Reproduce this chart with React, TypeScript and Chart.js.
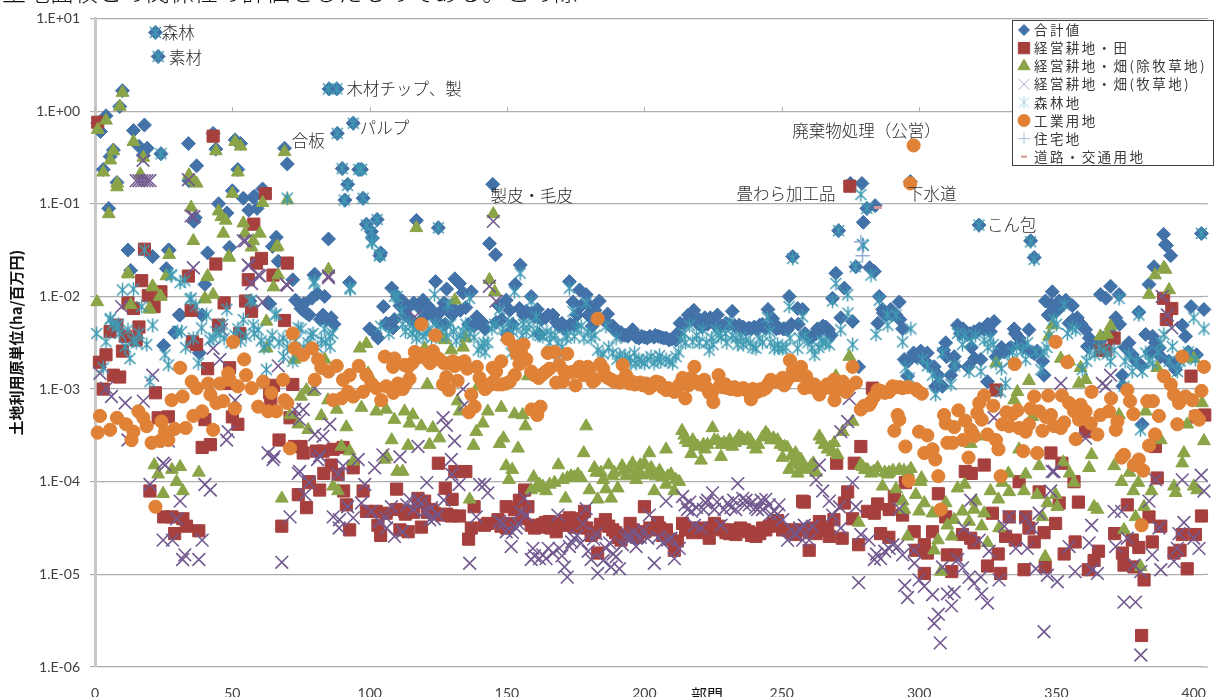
import React, { useEffect, useRef } from "react";
import { Chart, registerables } from "chart.js";
import { drawPoint } from "chart.js/helpers";

Chart.register(...registerables);

// every pair: [sector number, log10 of the unit value]
const totalPoints = [[1,-.13],[2,-.22],[4,-.05],[3,-.63],[5,-1.05],[5.5,-.49],[6.7,-.42],[8,-.77],[9,.05],[10,.22],[12,-1.5],[13,-1.72],[14,-.21],[16,-.38],[18,-.15],[17.6,-.48],[19,-.4],[21,-1.57],[22,.85],[23,.59],[24,-.46],[26,-1.7],[26.7,-1.5],[27,-1.5],[25,-2.53],[29,-2.39],[30.7,-2.2],[31,-2.2],[34,-.35],[34.2,-.75],[36,-1.19],[36.5,-1.15],[37,-.59],[38,-2.61],[39,-2.2],[40,-1.87],[41,-1.53],[43,-.24],[44,-.41],[45,-1],[48,-1.1],[49,-1.47],[50,-.86],[51,-.31],[52,-.63],[53,-.35],[54,-.94],[56,-1.07],[56.4,-2.05],[57.6,-.93],[58,-.92],[59,-1.05],[61,-.84],[63,-2.07],[63.6,-2.08],[64.6,-1.46],[66,-1.36],[66.7,-1.62],[69,-.4],[70,-.57],[72,-1.82],[73,-2.04],[75,-2.13],[75.8,-2.15],[78,-2.2],[79,-2.02],[79.7,-1.77],[80,-1.76],[81,-1.97],[82,-2.25],[83.6,-2],[85,-1.38],[85.2,.24],[86,-2.23],[88,.24],[88.2,-.24],[90,-.62],[91,-.96],[92,-.79],[92.7,-1.85],[94,-.13],[96,-.63],[97,-.63],[97.6,-.94],[98.8,-1.22],[100.6,-1.3],[101,-1.37],[102.7,-1.17],[103.7,-1.56],[104,-1.53],[105,-2.11],[106,-2.29],[108,-1.91],[108.5,-2.34],[110,-2],[111,-2.1],[112,-2.05],[114,-2.12],[116,-2.07],[117,-1.18],[118,-2.12],[119.4,-2.04],[121,-2.1],[122,-2.13],[124,-1.84],[125,-1.26],[126,-2.16],[127,-2.07],[128,-1.92],[129.5,-2.1],[131,-1.81],[132.7,-1.86],[133,-2.15],[134,-1.96],[137,-1.95],[139,-2.22],[140.6,-2.3],[143.6,-1.43],[144.8,-.79],[145.8,-1.55],[147,-2.1],[149.7,-2.04],[150,-2.41],[153,-1.87],[154.5,-2.13],[154.8,-1.66],[157,-2.16],[158.8,-2],[160,-2.22],[161.8,-2.41],[164,-2.23],[166.7,-2.2],[170,-2.29],[172.7,-1.84],[174,-2.06],[174.5,-2.31],[176.4,-1.93],[178.8,-1.98],[181,-2.32],[183.6,-2.05],[186.6,-2.19],[188.5,-2.32],[190,-2.38],[191.5,-2.39],[193,-2.42],[194,-2.43],[195.7,-2.36],[197,-2.44],[198,-2.45],[200,-2.44],[202,-2.43],[203.5,-2.44],[205,-2.43],[207,-2.45],[208,-2.45],[210,-2.46],[211.5,-2.47],[213,-2.29],[216,-2.2],[218,-2.15],[220,-2.25],[222,-2.23],[224,-2.23],[226.6,-2.2],[229.7,-2.29],[232,-2.16],[234.5,-2.31],[236,-2.33],[238,-2.34],[240,-2.33],[242,-2.31],[245,-2.14],[246.7,-2.24],[249,-2.34],[250.5,-2.35],[252,-2.36],[252.7,-2],[254,-1.57],[255.8,-2.13],[257.6,-2.14],[258.5,-2.4],[260,-2.45],[262.5,-2.4],[264,-2.37],[265,-2.32],[267,-2.36],[268.5,-2.02],[269.7,-1.75],[270.7,-1.29],[271.5,-2.23],[272.8,-1.91],[275,-.78],[275.8,-2.27],[277,-1.68],[278,-2.76],[279.2,-.78],[279.7,-1.2],[281,-1.05],[282,-1.69],[283.7,-1.73],[284,-1.02],[285,-2.29],[285.5,-2],[286.7,-2.14],[289.7,-2.14],[291.6,-2.2],[292.8,-2.06],[294,-2.35],[294.6,-2.68],[295.8,-2.86],[296.8,-.76],[298,-2.61],[300.6,-2.59],[303,-2.61],[305.5,-2.76],[306,-2.97],[308.5,-2.97],[309,-2.58],[309.7,-2.5],[311.5,-2.85],[312.8,-2.65],[314,-2.31],[317.6,-2.41],[317.8,-2.76],[320,-2.38],[320.2,-2.67],[321.8,-1.23],[322.5,-2.68],[323.7,-2.36],[324.9,-2.92],[327.3,-2.27],[328,-2.65],[332.8,-2.56],[334.6,-2.35],[336.4,-2.45],[340,-2.36],[340.6,-1.4],[341.9,-1.58],[343,-2.59],[345,-2.7],[345.5,-2.85],[348,-2.09],[348.5,-1.95],[350,-2.16],[353.4,-2.04],[354.6,-2.29],[355.8,-2.1],[357.6,-2.23],[360.6,-2.36],[361.3,-2.54],[366,-1.98],[368,-2.02],[369.7,-1.89],[371.6,-2.23],[372.8,-1.98],[374,-2.85],[374.2,-2.97],[376.4,-2.5],[377.6,-2.63],[380,-2.17],[381.2,-3.38],[382.5,-2.41],[383.7,-1.87],[385,-2.43],[385.5,-1.68],[387.3,-2.56],[389,-1.33],[389.7,-1.44],[390,-1.45],[391.6,-1.56],[393.4,-2.79],[395.8,-2.31],[397,-2.43],[399,-2.11],[401,-2.63],[402.8,-1.32],[403.7,-2.14]];
const totalBandPoints = [[113,-2.2],[115,-2.25],[117.5,-2.3],[120,-2.22],[122.5,-2.2],[125,-2.28],[127.5,-2.3],[130,-2.2],[135,-2.12],[136,-2.3],[138,-2.32],[141,-2.28],[142,-2.35],[146,-2.28],[148,-2.25],[151,-2.15],[152,-2.3],[156,-2.2],[159,-2.18],[161,-2.14],[162.5,-2.25],[165,-2.2],[168,-2.28],[169,-2.32],[171,-2.35],[173,-2.3],[175.5,-2.2],[177,-2.1],[179.5,-2.2],[180,-2.1],[182,-2.15],[185,-2.25],[187,-2.3],[189,-2.36],[192,-2.42],[196.5,-2.42],[199,-2.43],[201,-2.45],[204,-2.42],[206,-2.44],[209,-2.47],[212,-2.4],[214.5,-2.3],[217,-2.25],[219,-2.28],[221,-2.33],[223,-2.3],[225.5,-2.3],[228,-2.32],[231,-2.3],[233,-2.32],[235,-2.34],[237,-2.36],[239,-2.35],[241,-2.36],[243,-2.3],[244,-2.34],[247.5,-2.3],[248,-2.35],[251,-2.35],[253.5,-2.3],[256,-2.3],[259,-2.42],[261,-2.44],[263,-2.35],[266,-2.33],[268,-2.42],[287,-2.18],[288,-2.2],[290,-2.2],[293,-2.25],[296,-2.7],[299,-2.65],[302,-2.7],[304,-2.75],[307,-2.85],[310,-2.65],[313,-2.75],[315,-2.4],[316,-2.35],[318.5,-2.4],[319,-2.55],[321,-2.38],[322,-2.35],[325,-2.3],[326,-2.38],[329,-2.6],[330,-2.55],[331,-2.6],[333.5,-2.55],[335,-2.4],[337,-2.5],[338,-2.55],[341,-2.6],[342,-2.62],[346,-2.05],[347,-2.2],[349,-2.12],[351,-2.05],[352,-2.1],[356,-2.25],[358,-2.28],[359,-2.3],[362,-2.45],[363,-2.5],[365,-2.5],[367,-2.45],[370,-2.4],[373,-2.3],[375,-2.55],[379,-2.7],[381,-2.75],[384,-2.6],[386,-2.5],[388,-2.65],[391,-2.7],[394,-2.7],[398,-2.6],[76,-2.08],[77,-2.18],[83,-2.2],[84,-2.25],[87,-2.3],[100,-2.35],[102,-2.4],[103,-2.45],[107,-2.3],[109,-2.25]];

const paddyPoints = [[1,-.12],[1.6,-2.71],[3,-3],[4,-2.63],[5.5,-2.38],[6.7,-2.85],[8,-2.31],[9,-2.87],[10,-2.59],[11,-2.43],[12,-2.07],[14,-2.13],[15,-2.47],[16,-2.33],[17,-1.83],[18,-1.49],[19.4,-1.99],[20,-4.1],[21.5,-2.11],[22,-3.04],[23,-3.31],[24,-1.95],[25,-4.38],[26.7,-3.3],[28,-4.38],[29,-4.56],[32,-4.4],[33.3,-4.48],[34,-1.78],[35,-2.15],[35.5,-2.49],[37,-2.52],[37.8,-4.53],[39,-3.63],[40,-3.33],[41,-2.78],[42,-3.6],[43,-.27],[44,-1.65],[45,-2.31],[47,-2.07],[48.5,-2.94],[49,-2.77],[50,-3.3],[52,-3.38],[52.7,-2.4],[54.8,-2.05],[55.8,-1.82],[57,-2.16],[57.8,-1.22],[58.8,-1.64],[60.6,-1.59],[62,-.89],[63.6,-3.04],[64,-3.12],[64.8,-1.77],[65,-2.96],[67,-3.55],[68,-4.48],[69,-2.26],[70,-1.64],[71,-3.31],[72,-2.95],[72.7,-3.62],[74,-4.14],[75,-3.62],[75.8,-3.69],[77,-4.28],[77.8,-4.01],[78,-4],[80.6,-3.67],[81.8,-4.09],[83,-3.67],[83.3,-3.91],[86,-3.82],[86.7,-3.65],[88.5,-3.92],[90.3,-3.63],[90.5,-4.1],[91.5,-4.25],[92.7,-4.52],[94,-3.85],[97.6,-4.1],[98.8,-4.32],[102.4,-4.32],[103,-4.47],[104,-4.58],[106,-4.34],[109.7,-4.3],[109.8,-4.08],[111,-4.52],[112.7,-4.32],[114,-4.54],[115,-4.32],[117.6,-4.18],[118.8,-4.49],[120,-4.21],[122.4,-4.3],[125,-3.8],[127.5,-4.07],[129.7,-4.37],[130,-4.19],[131,-3.89],[132.7,-4.37],[135,-3.89],[136,-4.62],[137,-4.5],[138,-4.27],[141.8,-4.47],[146.7,-4.41],[149.7,-4.27],[149.8,-4.5],[152.7,-4.3],[154.5,-4.2],[156.4,-4.09],[157.6,-4.27],[158.8,-4.47],[161.8,-4.49],[165.4,-4.43],[167.9,-4.54],[170.3,-4.47],[172.7,-4.39],[174.5,-4.49],[178.2,-4.32],[180.6,-4.58],[183,-4.77],[185.8,-4.41],[188.5,-4.52],[191.5,-4.63],[194.8,-4.45],[200,-4.27],[200.2,-4.54],[204.8,-4.44],[206.7,-4.58],[210.9,-4.74],[213.9,-4.45],[217.6,-4.55],[223.6,-4.61],[225.5,-4.45],[229.7,-4.55],[233.3,-4.57],[238,-4.54],[240.6,-4.59],[244.2,-4.52],[250.3,-4.52],[255,-4.57],[257.6,-4.21],[258.2,-4.22],[260,-4.74],[263.7,-4.43],[266.7,-4.5],[267.3,-4.59],[269,-4.41],[270,-3.8],[272,-4.61],[272.8,-4.23],[274,-4.11],[274.8,-.81],[275.8,-4.4],[276.4,-3.8],[278,-4.68],[278.8,-3.62],[281.2,-4.32],[283,-2.99],[283.7,-4.34],[284.9,-4.24],[286,-4.56],[289,-4.6],[289.1,-4.3],[291,-4.16],[294,-4.36],[295,-4.01],[298.2,-4.54],[298.8,-4.74],[301.9,-4.68],[301.9,-4.99],[303,-4.77],[304.9,-4.54],[307,-4.13],[309.7,-4.38],[310.3,-4.79],[311.9,-4.97],[313.4,-4.79],[315.8,-4.57],[316.8,-3.89],[318.8,-4.61],[319,-3.91],[320,-4.66],[323.7,-3.82],[324.9,-4.91],[326.7,-4.34],[328,-3.01],[328.8,-4.78],[329.7,-4.99],[331.5,-4.59],[332.8,-4.38],[335,-4.63],[336.4,-4],[338.2,-4.95],[338.8,-4.38],[340,-4.5],[341.9,-4.65],[343.7,-4.11],[345.5,-4.55],[345.9,-4.92],[348,-3.69],[349.7,-4.45],[351,-4.23],[352,-3.8],[352.8,-4.78],[356.4,-4],[356.8,-4.65],[358,-4.22],[360.6,-3.46],[361.6,-4.95],[363.7,-4.85],[365.3,-4.75],[366,-2.58],[368,-2.58],[371,-2.45],[371.2,-4.56],[374,-4.77],[374.6,-4.9],[375.8,-4.25],[377.6,-4.63],[378.2,-4.92],[380,-4.71],[381,-5.66],[381.9,-5.06],[383.7,-4.38],[384.9,-4.65],[386,-3.62],[386.7,-3.96],[388,-4.48],[389,-2.02],[390,-2.25],[392,-2.13],[392.8,-4.77],[395,-4.74],[395.8,-4.57],[397.6,-4.94],[399,-2.86],[400.6,-4.57],[400.8,-3.3],[402.8,-4.37],[404,-3.28]];
const paddyBandPoints = [[160,-4.5],[163,-4.46],[164,-4.44],[166,-4.5],[169,-4.45],[171,-4.42],[173.5,-4.44],[176,-4.46],[177,-4.4],[179,-4.5],[182,-4.55],[184,-4.46],[187,-4.48],[189.5,-4.55],[190.5,-4.6],[193,-4.58],[196,-4.52],[197.5,-4.6],[199,-4.55],[202,-4.5],[203,-4.52],[205.5,-4.5],[208,-4.52],[209.5,-4.62],[212,-4.64],[215,-4.52],[216.5,-4.5],[219,-4.52],[220.5,-4.5],[222,-4.55],[224.5,-4.5],[227,-4.48],[228.5,-4.52],[231,-4.56],[232,-4.52],[235,-4.5],[236.5,-4.52],[239,-4.58],[242,-4.56],[243,-4.5],[245.5,-4.48],[247,-4.45],[248.5,-4.42],[252,-4.52],[253.5,-4.55],[256.5,-4.52],[260,-4.55],[261,-4.5],[262.5,-4.56],[265,-4.52],[147.8,-4.48],[151,-4.45],[155.5,-4.4],[143,-4.45],[113,-4.35],[116,-4.33],[119,-4.22],[121,-4.33],[123.5,-4.34],[126,-4.36],[128,-4.35]];

const fieldPoints = [[.8,-2.06],[1,-.2],[3,-.66],[4,-.1],[5,-1.11],[6.7,-.43],[5.6,-.53],[8,-.82],[8.1,-.78],[9,.05],[10,.2],[12,-1.75],[12.1,-1.76],[13,-2.09],[14,-.33],[17.6,-.5],[16.5,-.68],[20,-2.14],[19.8,-2.13],[20.9,-1.9],[21,-1.89],[21.6,-3.82],[23,-3.92],[23.6,-2],[24,-2],[24.8,-4.13],[26,-1.78],[27,-1.55],[28,-3.87],[29.7,-4],[31,-3.84],[32,-4.1],[34.2,-.69],[35,-1.04],[35.8,-1.4],[36,-.75],[37,-.78],[37.8,-3.9],[40,-2.02],[40,-2.03],[40.9,-1.79],[41,-1.78],[43,-1.98],[44,-.43],[45,-1.08],[46,-1.14],[46.7,-1.32],[47.6,-1.18],[48.7,-1.57],[48.9,-1.58],[50,-.89],[51,-.33],[52,-.66],[53,-.38],[54,-1.21],[54.6,-1.32],[57,-1.47],[57.6,-1.4],[60,-1.32],[61,-.99],[62.4,-2.27],[62.5,-2.56],[65,-1.9],[66,-1.47],[66.5,-1.46],[66.7,-1.77],[68,-4.18],[69,-.44],[70,-.96],[71,-3.28],[72.7,-2.68],[74,-3.38],[75,-3.08],[77,-3.01],[77.6,-3.44],[79.4,-3.03],[82.4,-3.29],[83.6,-2.68],[84.8,-3.12],[85,-1.71],[86.7,-4.05],[88,-3.22],[88.5,-4.1],[89.7,-3.62],[91.5,-3.41],[92.7,-3.67],[94,-3.78],[96.4,-2.56],[97,-3.2],[98.8,-2.51],[99.4,-2.83],[102.4,-3.24],[105.5,-3.76],[106,-3.22],[106.2,-3.73],[108,-3.55],[109,-3.33],[110,-3.89],[112,-3.89],[112.7,-3.24],[114,-3.61],[114.5,-3.37],[115.7,-3.28],[117,-1.26],[118.8,-3.4],[120,-2.56],[121,-2.95],[121.8,-3.6],[123,-3.42],[125.4,-3.53],[127.3,-2.47],[129.7,-2.58],[131,-2.04],[132,-3.13],[132.7,-3.24],[134,-2.55],[135,-2.45],[136.4,-4.19],[137.8,-3.61],[138.8,-3.46],[139.4,-2.97],[141.2,-3.37],[143,-3.24],[143.6,-1.82],[145,-1.11],[145.5,-1.95],[147.3,-3.59],[147.9,-3.2],[148.7,-3.53],[149.7,-3.83],[150.7,-3.98],[151.9,-3.87],[152.7,-3.27],[154,-3.64],[155.7,-3.28],[156.7,-3.4],[157.6,-2.86],[158.8,-4.09],[159.7,-3.95],[161.8,-4.03],[164.2,-4.1],[167.3,-4.01],[168.7,-3.82],[170.3,-3.98],[171.3,-4.18],[173.3,-3.94],[175.8,-3.92],[177.9,-3.69],[178.8,-3.4],[180,-4.09],[181.8,-3.85],[183,-4.19],[184.2,-3.9],[186,-4.08],[187,-3.82],[187.9,-4.18],[188.5,-3.94],[190.3,-4.07],[191.9,-3.83],[193.3,-3.94],[195.7,-3.8],[197,-3.98],[197.6,-3.89],[200,-3.8],[201.2,-3.92],[201.8,-3.69],[203,-3.91],[203.6,-4.1],[204.8,-3.92],[207.9,-3.65],[207.9,-4.03],[209.7,-3.92],[210.9,-4.1],[212.7,-4],[213.7,-3.45],[215,-3.55],[217,-3.7],[217.6,-3.55],[220.6,-3.77],[223,-3.6],[224.8,-3.42],[226.7,-3.56],[227.9,-3.73],[229,-3.58],[232,-3.62],[234.5,-3.51],[237.6,-3.53],[240.6,-3.65],[244.2,-3.47],[246,-3.55],[248.5,-3.55],[250.3,-3.74],[252,-3.63],[252.7,-3.87],[255,-3.69],[255.8,-3.91],[257,-3.76],[259.4,-3.87],[260.6,-3.83],[263.7,-3.51],[266.7,-3.65],[269.1,-3.58],[269.7,-2.86],[270.3,-3.71],[272.2,-3.46],[274.6,-2.65],[275.8,-3.35],[278,-4.44],[278.8,-3.82],[281.2,-3.87],[282.5,-3.91],[284.9,-3.85],[286.7,-4.05],[289.1,-3.9],[291.6,-4.08],[292.8,-3.87],[294,-4.21],[294.6,-4.3],[295.8,-4.59],[297,-3.86],[298.8,-4.14],[300,-4.32],[300.6,-4],[300.9,-3.96],[301.9,-4.23],[304.9,-4.34],[305.5,-4.74],[306.9,-4.63],[307.9,-4.97],[309.7,-4.23],[310.3,-4.47],[311.9,-4.59],[312.8,-4.41],[314,-4.07],[315.8,-4.32],[316.6,-4.03],[318.2,-4.43],[318.8,-3.59],[320,-4.3],[320.6,-4.21],[321.2,-3.51],[322.8,-4.48],[323.7,-4.34],[324.9,-4.66],[326,-4.1],[328,-2.72],[328.9,-4.19],[329.1,-4.5],[330.3,-4.01],[332.5,-3.91],[332.8,-4.11],[334.6,-3.12],[335.8,-3.03],[336.4,-3.65],[338.2,-4.1],[338.8,-3.92],[340,-2.91],[341.2,-3.3],[343,-4.14],[343.7,-3.83],[344.9,-4.38],[345.9,-4.81],[346.7,-4.23],[347.3,-2.43],[348.5,-2.31],[349.7,-4.14],[350.3,-4.27],[351.6,-2.67],[352.5,-3.79],[354.6,-2.7],[354.8,-3.91],[356.4,-4.01],[358.2,-2.94],[358.8,-2.77],[360.6,-2.9],[361.9,-3.85],[362.8,-3.71],[363.7,-4.27],[364.9,-4.3],[366,-2.43],[368.5,-2.41],[369.7,-2.32],[371,-3.83],[372.8,-3.28],[373.7,-4],[374.6,-4.52],[376.6,-3.9],[378,-4.1],[378.8,-4.38],[379.8,-4.01],[380.7,-4.92],[381.9,-4.27],[382.5,-3.24],[383.7,-1.98],[384.6,-4.1],[385.9,-1.77],[386.7,-2.77],[388,-3.55],[389.1,-1.69],[389.7,-1.71],[391,-1.93],[392.8,-4.05],[393.4,-4.12],[395.8,-3.8],[396.4,-3.69],[397.6,-3.38],[400,-2.67],[400,-4.05],[401.2,-4.09],[403,-3.15],[403.7,-3.56]];
const fieldBandPoints = [[160.5,-4.07],[163,-4.05],[165.5,-4.03],[172,-3.96],[174.5,-3.95],[177,-3.96],[182.5,-3.9],[185,-3.98],[189,-3.9],[192.5,-3.88],[194.5,-3.86],[196.5,-3.92],[198.5,-3.82],[199,-3.93],[202.5,-3.85],[204,-3.94],[205.5,-3.88],[206.5,-3.95],[208.5,-3.94],[211.5,-3.98],[214.5,-3.5],[216,-3.58],[218.5,-3.6],[219.5,-3.62],[221.5,-3.6],[222,-3.65],[225.5,-3.55],[228,-3.6],[230,-3.6],[231,-3.55],[233,-3.58],[235.5,-3.53],[236.5,-3.56],[238.5,-3.55],[239.5,-3.6],[241.5,-3.6],[243,-3.52],[245,-3.5],[247,-3.53],[249.5,-3.6],[251,-3.62],[253.5,-3.72],[254.2,-3.8],[256.5,-3.82],[258,-3.85],[261.5,-3.8],[262.5,-3.9],[264.5,-3.55],[265.5,-3.6],[267.5,-3.63],[268.5,-3.68],[279.5,-3.84],[280.3,-3.87],[283.5,-3.89],[287.5,-3.9],[288.5,-3.92],[290.5,-3.88],[294.5,-3.88],[296,-3.9]];

const pasturePoints = [[1.8,-2.83],[4.2,-2.99],[6,-3.08],[9.7,-2.11],[11,-3.15],[12,-3.55],[15,-.75],[16,-.75],[17,-.75],[17.6,-3.13],[18,-.75],[19,-.75],[20,-.75],[17.5,-.53],[20,-4.03],[21,-2.85],[24.8,-3.8],[24.8,-4.63],[25.5,-3.82],[26.7,-3.56],[28.2,-4.63],[29.7,-4.4],[31,-4.21],[31.9,-4.84],[32.7,-4.79],[34,-.74],[35,-1.13],[35.8,-1.69],[36,-1.14],[37.8,-4.84],[39,-4.63],[40,-4.03],[42,-4.09],[43,-2.56],[45.5,-2.68],[46,-2.36],[47.9,-3.55],[48.5,-3.46],[51,-3.12],[54,-1.4],[54.8,-1.4],[55.8,-1.66],[56,-1.67],[57,-1.86],[59.4,-1.77],[60,-1.78],[61,-2.06],[63,-3.69],[64.8,-3.76],[65.2,-3.73],[66.7,-2.75],[68,-4.87],[69.7,-1.87],[70,-1.88],[71,-4.38],[72.7,-3.22],[74,-3.91],[74.5,-3.33],[74.5,-3.89],[75.8,-3.22],[76.4,-4.14],[78,-4.01],[80,-2.99],[80,-3.49],[81,-3.76],[81.8,-3.72],[83,-3.51],[85,-1.78],[85,-1.8],[85.5,-3.38],[86.7,-4.38],[88.5,-3.92],[88.9,-4.5],[89,-4.41],[90.3,-3.83],[92,-4.27],[94,-4.39],[95.8,-3.76],[97,-4.23],[98.2,-4.03],[100.6,-4.32],[101.8,-3.85],[103.6,-4.43],[104.8,-3.71],[106,-4.39],[106.2,-4.5],[107.9,-4.27],[109,-4.59],[111,-3.73],[112,-4.54],[114.5,-4.19],[116.4,-2.22],[117.6,-3.62],[118.8,-4.23],[120.8,-4.01],[121.8,-4.41],[124.8,-4.36],[126.7,-3.31],[127.9,-3.39],[129.7,-3.76],[129.9,-3.92],[130.9,-3.56],[132.5,-4.03],[134,-3],[134.5,-3.17],[136.4,-4.88],[138.8,-4.38],[140,-4.03],[141.8,-4.03],[143,-4.12],[143.6,-1.89],[145,-1.19],[146,-2.05],[147.3,-4.43],[149.7,-4.54],[151.5,-4.7],[153.3,-4.5],[156.4,-4.18],[157,-4.36],[158.8,-4.84],[159.4,-4.72],[161.8,-4.83],[164.2,-4.83],[166.7,-4.77],[168.5,-4.36],[170.9,-4.92],[171.9,-5.03],[172.7,-4.7],[174.5,-4.61],[177,-4.66],[177.6,-4.45],[178.8,-4.29],[180.6,-4.84],[182.4,-4.56],[183,-4.99],[187.3,-4.66],[187.9,-4.92],[189.7,-4.81],[190.9,-4.94],[194,-4.57],[197,-4.7],[201.2,-4.61],[201.8,-4.36],[203.6,-4.88],[206.7,-4.66],[207.9,-4.21],[209.7,-4.61],[210.9,-4.83],[212.7,-4.72],[213.9,-4.16],[215.7,-4.3],[218.2,-4.47],[220.6,-4.5],[222.4,-4.23],[224.8,-4.12],[225.5,-4.3],[227.9,-4.47],[230.3,-4.23],[234,-4.02],[235.8,-4.18],[238.2,-4.25],[241.2,-4.3],[244.2,-4.19],[247.3,-4.32],[250.3,-4.41],[252.1,-4.63],[255.2,-4.57],[257.6,-4.63],[258.2,-4.47],[260,-4.63],[261.2,-4.48],[262.5,-3.98],[263.7,-3.82],[264.9,-4.1],[267.3,-4.21],[268.5,-4.36],[271,-4.27],[271.5,-3.46],[271.5,-4.5],[274,-3.35],[274.6,-3.1],[275.8,-4.01],[277,-4.27],[278,-5.09],[278.8,-4.57],[281.8,-4.63],[283.7,-4.84],[286,-4.83],[289.1,-4.72],[292.2,-4.7],[292.8,-4.29],[294,-4.79],[294.8,-5.12],[295.8,-5.25],[298.2,-4.74],[298.3,-4.88],[300,-5.06],[301.9,-5.13],[304.9,-5.22],[305.5,-5.53],[307,-5.43],[307.7,-5.74],[308.5,-4.92],[310.3,-5.21],[311.8,-5.34],[312.8,-5.19],[314,-4.84],[315.8,-4.93],[316.4,-4.5],[318.2,-5.03],[318.8,-4.2],[320,-5.1],[321.9,-4.63],[322.5,-5.03],[322.8,-5.21],[324.9,-5.31],[325.5,-4.75],[327.3,-3.31],[329.1,-5.06],[331,-4.48],[332.8,-4.38],[335.2,-4.72],[338.8,-4.39],[339.4,-4.72],[341.2,-4.5],[342.5,-4.94],[343.7,-4.34],[345.5,-5.62],[346.7,-5.01],[347.9,-4.1],[348.5,-3.89],[349.1,-3.89],[350.3,-5.08],[351.6,-2.94],[354.6,-4.7],[356.8,-4.97],[360.6,-3.53],[361.9,-4.66],[362.8,-4.47],[363.1,-4.95],[364.9,-4.99],[366.7,-2.94],[368,-2.97],[369.7,-2.85],[371,-4.32],[371.6,-4.7],[373.7,-4.32],[374.6,-5.3],[375.8,-4.61],[378.2,-4.9],[378.8,-5.3],[380.7,-4.97],[380.7,-5.87],[383.7,-4.21],[384.9,-4.79],[386.1,-3.98],[387.3,-4.5],[388,-4.95],[388.5,-2],[390.4,-2.2],[392,-2.34],[392.8,-4.86],[394,-4.72],[394.6,-4.56],[395.8,-3.98],[396.4,-4.44],[400,-4.61],[401.9,-4.72],[402.7,-3.93],[403.7,-4.1]];
const pastureBandPoints = [[160,-4.8],[163,-4.79],[165,-4.72],[169,-4.72],[170,-4.8],[173.5,-4.65],[175.5,-4.58],[179.5,-4.75],[181.5,-4.62],[185,-4.85],[186,-4.72],[188.6,-4.78],[192,-4.68],[193,-4.6],[195,-4.62],[196,-4.55],[198.5,-4.6],[199.5,-4.52],[205,-4.6],[208.5,-4.63],[214.8,-4.25],[216.5,-4.22],[217.2,-4.32],[219,-4.28],[221.5,-4.3],[223,-4.2],[226.5,-4.22],[229,-4.3],[231.5,-4.28],[232.5,-4.2],[233.2,-4.3],[236.5,-4.25],[237,-4.2],[239.5,-4.22],[240.5,-4.28],[242.5,-4.2],[243,-4.3],[245.5,-4.25],[246,-4.35],[248.5,-4.35],[249,-4.25],[253.5,-4.52],[256.5,-4.5],[113.5,-4.25],[116,-4.3],[117.5,-4.2],[120,-4.32],[122.5,-4.28],[123.5,-4.4],[127,-4.2],[284.5,-4.78],[287.5,-4.75],[290.5,-4.68],[148.5,-4.45],[152,-4.55],[155,-4.33],[154,-4.45]];

const forestPoints = [[.6,-2.4],[3,-2.77],[4,-2.49],[5.5,-2.25],[5.6,-2.24],[7.9,-2.33],[10,-1.93],[11,-2.54],[12.7,-2.67],[14,-1.92],[15,-2.5],[17,-2.11],[18,-1.5],[18.8,-2.52],[20,-2.92],[21,-2.31],[22,.85],[23,.59],[24,-.46],[25.5,-2.63],[26.7,-2.74],[27.6,-1.77],[28,-1.77],[30,-2.38],[31,-1.85],[32.7,-1.83],[34.6,-2.03],[35,-2.02],[35.8,-2.45],[36.7,-2.1],[37.6,-2.72],[38.8,-2.34],[40.6,-2.2],[41.8,-2.47],[45.5,-2.41],[48,-2.14],[54,-2.25],[55,-2.43],[56.4,-2.05],[57,-2.04],[57.6,-2.31],[59.4,-2.36],[62.4,-2.79],[63.6,-2.5],[65.5,-2.2],[66,-2.19],[68.5,-2.45],[68.6,-2.65],[70,-.94],[72,-2.7],[74,-2.34],[79.4,-2.4],[79.7,-1.86],[80,-1.84],[82.4,-2.47],[85,.24],[85.5,-2.43],[85.6,-2.54],[88,.24],[88.2,-.24],[90,-.62],[90.7,-.96],[91.9,-.8],[92.7,-1.91],[93,-1.92],[94,-.13],[96,-.63],[97,-.63],[97.6,-.94],[98.8,-1.23],[100.6,-1.3],[100.7,-1.41],[101,-1.42],[102.7,-1.17],[103.6,-1.55],[103.7,-1.56],[104,-2.32],[107,-2.4],[109,-2],[110,-2],[111.5,-2.16],[114.5,-2.29],[117,-2.45],[119.4,-2.43],[123.6,-1.98],[125,-1.26],[128,-2.43],[128.5,-2.09],[134,-2.38],[136.4,-2.02],[140.6,-2.54],[143,-2.5],[147.3,-2.14],[151.5,-2.61],[152.7,-1.95],[154.8,-1.75],[157,-2.38],[158.8,-2.05],[160.6,-2.22],[163,-2.43],[166,-2.41],[169,-2.63],[172.7,-1.91],[174,-2.16],[174.5,-2.43],[178.8,-2.07],[180.6,-2.45],[184.2,-2.65],[186,-2.32],[188.5,-2.61],[189.7,-2.45],[191,-2.63],[193,-2.64],[194.5,-2.66],[196.4,-2.61],[198,-2.68],[200,-2.72],[202.4,-2.65],[204.8,-2.68],[206,-2.7],[207.9,-2.68],[210.3,-2.72],[213.3,-2.47],[216.4,-2.31],[217.6,-2.49],[221.2,-2.36],[223.6,-2.58],[226,-2.36],[228,-2.44],[231,-2.29],[233.3,-2.45],[235,-2.44],[237,-2.47],[240.6,-2.56],[244.8,-2.23],[247.3,-2.56],[250.3,-2.56],[252.7,-2.11],[254,-1.59],[255.8,-2.56],[257.6,-2.22],[262,-2.63],[265,-2.5],[267.3,-2.52],[268.5,-2.05],[269.7,-1.86],[270.7,-1.29],[271.5,-2.36],[274,-1.98],[274.1,-2.18],[275.8,-2.52],[276.8,-1.68],[278.8,-.9],[279.4,-1.44],[279.7,-1.45],[281,-1.05],[282.5,-1.77],[284.3,-2.41],[285.5,-2.04],[288.5,-2.2],[288.6,-2.31],[291.6,-2.2],[294,-2.49],[295,-2.77],[296.4,-2.88],[297,-2.35],[301.2,-2.68],[304.9,-2.85],[306,-3.06],[308.5,-2.61],[311.6,-2.95],[314,-2.4],[315.8,-2.52],[318.2,-2.81],[321.8,-1.23],[322.5,-2.81],[323.7,-2.47],[326,-2.45],[328,-2.72],[329.7,-3.03],[331.5,-2.94],[332.8,-2.7],[337.6,-2.58],[338.8,-2.68],[340.6,-1.41],[341.9,-1.6],[344.3,-2.79],[347.3,-2.43],[352.8,-2.09],[355.8,-2.34],[359.4,-2.79],[364,-2.63],[367.3,-2.58],[369.7,-2.7],[372.8,-2.02],[374.6,-2.97],[376.4,-2.63],[377.6,-2.81],[380,-2.2],[380.6,-3.44],[381.3,-2.81],[382.5,-2.61],[385,-2.72],[389.1,-2.41],[392.2,-2.54],[394,-2.81],[396.4,-2.67],[400,-2.23],[400.6,-2.68],[402.8,-1.32],[403.7,-2.35]];
const forestBandPoints = [[112,-2.3],[113,-2.38],[115.5,-2.4],[116,-2.35],[118,-2.38],[120.5,-2.4],[121.5,-2.35],[122.5,-2.45],[124,-2.3],[125,-2.42],[126.5,-2.35],[129.5,-2.3],[130.5,-2.38],[131.5,-2.48],[133,-2.42],[135,-2.3],[136.5,-2.4],[138,-2.44],[139.5,-2.58],[141.5,-2.5],[142,-2.6],[144.5,-2.35],[145.5,-2.3],[148.5,-2.35],[149.5,-2.42],[150.5,-2.28],[152,-2.38],[153.5,-2.33],[155.5,-2.42],[156,-2.3],[158,-2.3],[159.5,-2.4],[161,-2.35],[162,-2.42],[164.5,-2.38],[165.5,-2.5],[167.5,-2.42],[168.5,-2.5],[170,-2.55],[171.5,-2.45],[172,-2.42],[175.5,-2.35],[177,-2.32],[178,-2.45],[179.5,-2.38],[182,-2.42],[183,-2.58],[185,-2.62],[187,-2.55],[190,-2.68],[192,-2.7],[195,-2.72],[197,-2.72],[199,-2.7],[201,-2.68],[203.5,-2.72],[205.5,-2.64],[209,-2.7],[211.5,-2.65],[212.5,-2.6],[214.5,-2.4],[215,-2.5],[219,-2.42],[220,-2.5],[222.5,-2.5],[224.5,-2.45],[225,-2.52],[227,-2.42],[229.5,-2.4],[230,-2.5],[232,-2.42],[234,-2.52],[236,-2.52],[238.5,-2.5],[239.5,-2.55],[242,-2.45],[243,-2.5],[245.5,-2.38],[246,-2.5],[248.5,-2.52],[249,-2.56],[251.5,-2.55],[253,-2.45],[256.5,-2.45],[258.5,-2.42],[259.5,-2.5],[261,-2.56],[263.5,-2.55],[264.5,-2.48],[266,-2.5],[6.5,-2.3],[8.5,-2.3],[9,-2.4],[12,-2.36],[14,-2.48],[16,-2.4],[31.5,-2.38],[33,-2.55],[43,-2.45],[44,-2.38],[46.5,-2.3],[47,-2.45],[49.5,-2.5],[51,-2.42],[52,-2.35],[53,-2.48],[58,-2.4],[60.5,-2.48],[61.5,-2.55],[64.5,-2.42],[67,-2.5],[70,-2.55],[71,-2.42],[73,-2.48],[75,-2.35],[76,-2.55],[77.5,-2.5],[78.5,-2.42],[81,-2.55],[83.5,-2.35],[84,-2.5],[86.5,-2.4],[303,-2.75],[307.5,-2.9],[313,-2.75],[316.5,-2.42],[319,-2.48],[320.5,-2.42],[325,-2.55],[327,-2.52],[330,-2.78],[334,-2.6],[335.5,-2.55],[339.5,-2.5],[342.5,-2.6],[345.5,-2.6],[346.5,-2.55],[349,-2.25],[350,-2.3],[354,-2.4],[357,-2.36],[361,-2.7],[362,-2.6],[365.5,-2.55],[368.5,-2.62],[371,-2.58],[375,-2.7],[379,-2.7],[383.7,-2.7],[387,-2.6],[388,-2.5],[391,-2.7],[395,-2.7],[398,-2.6]];

const industrialPoints = [[1,-3.47],[1.8,-3.29],[5.5,-3.44],[8,-3.31],[11.3,-3.38],[13.3,-3.55],[14,-3.46],[15.8,-3.24],[17.6,-3.31],[18.8,-3.4],[20.6,-3.58],[22,-4.27],[23.6,-3.56],[24.2,-3.35],[25.5,-3.46],[26.7,-3.55],[27.9,-3.12],[29,-3.43],[31,-2.77],[31.9,-3.08],[33,-3.42],[35.2,-2.92],[35.8,-3.29],[37,-2.99],[39,-3.24],[41.2,-2.94],[42,-3.06],[43,-3.44],[44.2,-3.15],[45.5,-2.94],[46.7,-3.13],[48.5,-2.83],[49,-2.9],[50.3,-2.49],[50.9,-3.21],[52,-2.97],[54.3,-2.68],[55,-2.85],[57,-2.99],[59.4,-3.19],[61.2,-2.92],[63,-3.24],[64.2,-3.04],[66,-3.24],[68.5,-2.9],[69,-3.12],[70,-3.15],[71,-3.64],[72,-2.4],[72.7,-2.56],[75.8,-2.63],[79,-2.56],[80,-2.9],[81.2,-2.68],[82.4,-2.77],[85,-2.81],[86.7,-3.12],[88,-2.75],[89.7,-3.1],[90.3,-2.9],[92.1,-3.03],[92.7,-2.85],[94,-3.08],[96,-2.75],[97.6,-3.03],[98.8,-2.85],[100.6,-2.94],[102.4,-2.99],[104.2,-3.12],[105.5,-2.65],[106,-2.97],[108.5,-2.76],[108.6,-3.04],[109,-2.67],[110.3,-2.94],[112,-3],[112.7,-2.74],[114,-2.76],[114.5,-2.89],[116.4,-2.6],[118.8,-2.3],[119.4,-2.63],[121.2,-2.69],[123,-2.59],[123.9,-2.42],[125.4,-2.68],[126.7,-2.95],[127.9,-2.87],[128.8,-3.01],[130.3,-2.7],[132,-2.91],[134.5,-2.7],[136.1,-3.25],[137,-3.06],[138.2,-3.19],[139,-2.76],[140,-2.88],[143,-2.97],[144.8,-2.77],[146,-2.81],[147.9,-2.7],[149.7,-2.94],[150.3,-2.46],[152.7,-2.54],[152.8,-2.85],[154.5,-2.73],[156,-2.52],[157,-2.68],[158.8,-2.81],[158.9,-3.22],[161,-3.28],[162.2,-3.19],[164.2,-2.81],[164.8,-2.61],[167.3,-2.6],[167.9,-2.93],[169,-2.74],[170.3,-2.92],[170.9,-2.81],[171.9,-2.62],[174.5,-2.81],[174.9,-2.96],[176.4,-2.76],[179.4,-2.76],[181.2,-2.92],[183,-2.24],[183.9,-2.73],[186.7,-2.88],[190.3,-2.92],[192.1,-2.74],[193.3,-2.85],[194.5,-2.94],[197.6,-2.94],[200.6,-2.94],[201.8,-2.99],[204.2,-2.92],[207.9,-3.01],[210.9,-3.03],[213.9,-2.88],[214.9,-3.1],[217,-2.88],[218.2,-2.76],[220,-2.95],[221.8,-2.9],[223.6,-3.04],[225.1,-3.14],[227,-2.85],[227.3,-2.97],[230.3,-2.99],[233.9,-3.01],[237,-3.01],[238.8,-3.11],[241.2,-3.03],[244.2,-2.99],[246,-2.9],[250.3,-2.88],[250.9,-2.96],[253,-2.69],[255.1,-2.85],[257,-2.76],[258.2,-2.99],[258.8,-2.86],[261.9,-2.95],[263.7,-3.06],[268.5,-3],[269.1,-2.9],[269.2,-3.12],[272.2,-2.92],[273.4,-3.03],[275.8,-2.76],[277,-2.93],[278.8,-3.22],[281.9,-3.17],[283.7,-3.08],[284.9,-3.01],[289.1,-3.03],[290.3,-2.97],[291,-3.45],[292.2,-3.28],[292.8,-3.33],[294,-2.99],[295,-3.62],[296.2,-3.99],[296.8,-.78],[298,-.37],[298.8,-3],[300,-3.46],[301,-3.05],[301.9,-3.69],[303,-3.5],[304.9,-3.65],[305.9,-3.76],[307,-3.94],[307.9,-4.3],[309.1,-3.28],[309.7,-3.37],[310.3,-3.58],[312.2,-3.58],[312.8,-3.41],[314.3,-3.23],[316,-3.55],[316.8,-3.34],[318,-3.74],[318.8,-3.44],[320,-3.51],[321.2,-3.26],[321.9,-3.15],[322.8,-3.33],[323.7,-3.07],[324.9,-3.49],[327,-3.18],[328,-3.55],[328.9,-3.65],[329.7,-3.94],[330.3,-3.38],[331.8,-3.25],[332.8,-3.4],[334,-3.27],[334.8,-2.73],[335.8,-3.23],[336.4,-3.42],[337.9,-3.67],[338.8,-3.46],[340,-3.38],[340.6,-3.21],[341.9,-3.08],[343,-3.69],[343.7,-3.24],[344.9,-3.45],[346.1,-3.3],[347,-3.07],[348,-3.28],[349.1,-3.4],[349.7,-2.49],[351.6,-3.42],[352,-3.07],[352.8,-3.36],[354,-2.71],[354.6,-3.15],[356.4,-3.24],[357,-3.54],[358.2,-3.33],[358.8,-3.17],[360.6,-3.24],[362.5,-3.37],[362.8,-3.03],[364.9,-3.49],[366,-3.28],[369.1,-3.24],[369.9,-3.1],[371.6,-3.44],[372.2,-3.35],[373.7,-3.74],[374.6,-3.71],[375.8,-3.01],[376.8,-3.13],[378,-3.27],[378.2,-3.82],[380,-3.76],[381,-4.47],[381.6,-3.88],[383.1,-3.13],[383.7,-3.61],[385.1,-3.13],[385.9,-3.49],[387.3,-3.29],[389.1,-2.86],[391.6,-2.95],[392.8,-3.06],[394,-3.38],[394.6,-3.15],[395.8,-2.65],[397,-3.08],[399.4,-3.12],[400.6,-3.29],[401.9,-3.33],[402.8,-3.02],[403.7,-2.76]];
const industrialBandPoints = [[113,-2.95],[115.5,-2.72],[117.5,-2.66],[118,-2.62],[120.5,-2.65],[122,-2.72],[124.5,-2.66],[127,-2.72],[129,-2.72],[131,-2.75],[133,-2.72],[135.5,-2.78],[141.5,-2.95],[142,-3],[144,-2.95],[145,-2.92],[146.5,-2.95],[148,-2.95],[151,-2.92],[153.5,-2.62],[155,-2.6],[160,-2.85],[161.5,-2.88],[163,-2.84],[165.5,-2.78],[173,-2.82],[175.5,-2.8],[177.5,-2.78],[178,-2.85],[180,-2.82],[182,-2.9],[185,-2.78],[185.5,-2.85],[188,-2.9],[189,-2.92],[191,-2.93],[192.8,-2.9],[195.5,-2.92],[196.5,-2.95],[198.5,-2.93],[199.5,-2.96],[202.5,-2.97],[203,-2.95],[205.5,-2.93],[206.5,-2.98],[208.5,-2.99],[209.5,-3],[212,-3],[212.8,-2.95],[215.5,-2.94],[216,-2.96],[219,-2.92],[222.5,-2.98],[224.5,-3.05],[228.5,-2.98],[229.5,-2.95],[231.5,-3],[232.8,-2.98],[235,-3],[236,-2.99],[239.5,-3],[240.5,-3.01],[242.5,-3],[243,-3.01],[245,-2.95],[247,-2.92],[248.5,-2.92],[251.5,-2.92],[252,-2.9],[254,-2.8],[256,-2.85],[259.5,-2.92],[260.5,-2.98],[262.5,-3],[265,-3],[266.5,-2.95],[267.5,-2.98],[270.5,-2.95],[271,-3],[274.5,-2.98],[280,-3.18],[282.5,-3.14],[286,-3.02],[287.5,-3.04],[291.5,-2.98],[293,-2.98],[296,-2.98],[299.5,-3.02]];

const residentialPoints = [[278.8,-1.41],[279.4,-1.56]];
const roadPoints = [[285,-1.04]];

const seriesNames = ["合計値", "経営耕地・田", "経営耕地・畑(除牧草地)", "経営耕地・畑(牧草地)", "森林地", "工業用地", "住宅地", "道路・交通用地"];
const seriesColors = ["#4372A8", "#A6403E", "#8AA447", "#72598F", "#3F9AB3", "#DF8237", "#96AED6", "#D89492"];
const legendColors = ["#4372A8", "#A6403E", "#8AA447", "#B9ACCD", "#A6D3E2", "#DF8237", "#A9BEDF", "#D89492"];

const labelNames = ["森林", "素材", "木材チップ、製", "パルプ", "合板", "製皮・毛皮", "廃棄物処理（公営）", "畳わら加工品", "下水道", "こん包"];
const labelXs = [24.3, 26.9, 91.6, 96.4, 71.6, 144, 253.8, 233.5, 295.6, 324.7];
const labelYs = [7.1, 3.8, 1.73, 0.67, 0.474, 0.121, 0.608, 0.127, 0.127, 0.06];

const xAxisName = "部門";
const yAxisName = "土地利用原単位(ha/百万円)";
const croppedHeading = "土地面積との関係性の評価をしたものである。この際";
const xTicks = [0, 50, 100, 150, 200, 250, 300, 350, 400];
const yTicks = [1e-6, 1e-5, 1e-4, 1e-3, 1e-2, 1e-1, 1, 10];

const toPoints = (...lists: number[][][]) => lists.flat().map(([x, e]) => ({ x, y: 10 ** e }));

function starImage(color: string) {
  const c = document.createElement("canvas");
  c.width = 15;
  c.height = 15;
  const g = c.getContext("2d")!;
  g.strokeStyle = color;
  g.lineWidth = 1.5;
  g.beginPath();
  g.moveTo(2, 2); g.lineTo(13, 13);
  g.moveTo(13, 2); g.lineTo(2, 13);
  g.moveTo(7.5, 0.5); g.lineTo(7.5, 14.5);
  g.stroke();
  return c;
}

const overlayPlugin = {
  id: "overlay",
  beforeDatasetsDraw(chart: any) {
    const { ctx, scales, chartArea } = chart;
    ctx.save();
    ctx.strokeStyle = "#adadad";
    ctx.lineWidth = 1.2;
    yTicks.forEach((v) => {
      const py = scales.y.getPixelForValue(v);
      ctx.beginPath();
      ctx.moveTo(chartArea.right - 1, py);
      ctx.lineTo(1208, py);
      ctx.stroke();
    });
    ctx.restore();
  },
  afterDraw(chart: any) {
    const { ctx, scales } = chart;
    const x = scales.x, y = scales.y;
    ctx.save();
    ctx.strokeStyle = "#b0b0b0";
    ctx.lineWidth = 1;
    const y1 = y.getPixelForValue(1);
    xTicks.forEach((t) => {
      const px = Math.round(x.getPixelForValue(t)) + 0.5;
      ctx.beginPath();
      ctx.moveTo(px, y1 - 4);
      ctx.lineTo(px, y1);
      ctx.stroke();
    });
    ctx.fillStyle = "#2b2b2b";
    ctx.font = '300 16.5px "Noto Sans CJK JP"';
    ctx.textBaseline = "middle";
    ctx.textAlign = "left";
    labelNames.forEach((t, i) => {
      ctx.fillText(t, x.getPixelForValue(labelXs[i]), y.getPixelForValue(labelYs[i]));
    });
    ctx.fillStyle = "#111";
    ctx.font = '16px "Noto Sans CJK JP"';
    ctx.textAlign = "center";
    ctx.fillText(xAxisName, 707, 695);
    ctx.font = '300 24px "Noto Sans CJK JP"';
    ctx.textAlign = "left";
    ctx.textBaseline = "alphabetic";
    ctx.fillText(croppedHeading, 2, 1);
    const lx = 1012, ly = 20, lw = 201, lh = 145;
    ctx.fillStyle = "#fff";
    ctx.fillRect(lx, ly, lw, lh);
    ctx.strokeStyle = "#404040";
    ctx.lineWidth = 1;
    ctx.strokeRect(lx + 0.5, ly + 0.5, lw, lh);
    const icons: any[] = [
      { pointStyle: "rectRot", radius: 5.5 },
      { pointStyle: "rect", radius: 8 },
      { pointStyle: "triangle", radius: 7 },
      { pointStyle: "crossRot", radius: 7.5 },
      { pointStyle: "star6", radius: 7 },
      { pointStyle: "circle", radius: 6 },
      { pointStyle: "cross", radius: 6 },
      { pointStyle: "line", radius: 3 },
    ];
    seriesNames.forEach((name, i) => {
      const cy = 30 + i * 18.1;
      ctx.strokeStyle = legendColors[i];
      ctx.fillStyle = legendColors[i];
      ctx.lineWidth = i === 7 ? 2 : 1;
      if (icons[i].pointStyle === "star6") {
        drawPoint(ctx, { pointStyle: "crossRot", radius: 7, rotation: 0, borderWidth: 1 }, 1024, cy);
        ctx.beginPath();
        ctx.moveTo(1024, cy - 6);
        ctx.lineTo(1024, cy + 6);
        ctx.stroke();
      } else {
        drawPoint(ctx, { ...icons[i], rotation: 0, borderWidth: 1 }, 1024, cy);
      }
      ctx.fillStyle = "#3a3a3a";
      ctx.font = '13.5px "Noto Sans CJK JP"';
      ctx.textBaseline = "middle";
      (ctx as any).letterSpacing = "2.4px";
      ctx.fillText(name, 1034, cy);
      (ctx as any).letterSpacing = "0px";
    });
    ctx.restore();
  },
};

export default function App() {
  const ref = useRef<HTMLCanvasElement>(null);
  useEffect(() => {
    const common = (i: number, extra: any) => ({
      label: seriesNames[i],
      borderColor: seriesColors[i],
      backgroundColor: seriesColors[i],
      showLine: false,
      clip: false,
      order: 100 - i,
      pointBorderWidth: 1,
      ...extra,
    });
    const chart = new Chart(ref.current!, {
      type: "scatter",
      data: {
        datasets: [
          common(0, { data: toPoints(totalPoints, totalBandPoints), pointStyle: "rectRot", pointRadius: 7 }),
          common(1, { data: toPoints(paddyPoints, paddyBandPoints), pointStyle: "rect", pointRadius: 8.6 }),
          common(2, { data: toPoints(fieldPoints, fieldBandPoints), pointStyle: "triangle", pointRadius: 7.4 }),
          common(3, { data: toPoints(pasturePoints, pastureBandPoints), pointStyle: "crossRot", pointRadius: 9, pointBorderWidth: 1.6 }),
          common(4, { data: toPoints(forestPoints, forestBandPoints), pointStyle: starImage(seriesColors[4]), pointRadius: 7 }),
          common(5, { data: toPoints(industrialPoints, industrialBandPoints), pointStyle: "circle", pointRadius: 6.6 }),
          common(6, { data: toPoints(residentialPoints), pointStyle: "cross", pointRadius: 7, pointBorderWidth: 1.5 }),
          common(7, { data: toPoints(roadPoints), pointStyle: "line", pointRadius: 4, pointBorderWidth: 3 }),
        ],
      },
      options: {
        responsive: false,
        animation: false,
        events: [],
        layout: { padding: { top: 18.5, right: 1, left: 0, bottom: 0 } },
        plugins: { legend: { display: false }, tooltip: { enabled: false } },
        scales: {
          x: {
            type: "linear",
            min: 0,
            max: 403.5,
            afterFit: (s: any) => { s.height = 30; s.paddingRight = 0; s.paddingLeft = 0; },
            afterBuildTicks: (s: any) => { s.ticks = xTicks.map((value) => ({ value })); },
            grid: { display: false },
            border: { display: false },
            ticks: { padding: 10, maxRotation: 0, autoSkip: false, color: "#404040", font: { family: "Lato", size: 14 } },
          },
          y: {
            type: "logarithmic",
            min: 1e-6,
            max: 10,
            afterFit: (s: any) => { s.width = 95; s.paddingTop = 0; s.paddingBottom = 0; },
            afterBuildTicks: (s: any) => {
              s.ticks = yTicks.map((value) => ({ value, major: true }));
            },
            border: { color: "#c8c8c8", width: 3 },
            grid: { color: "#adadad", lineWidth: 1.2, tickLength: 5 },
            title: { display: true, text: yAxisName, color: "#111", padding: { top: 7, bottom: 0 }, font: { family: "Noto Sans CJK JP", size: 15, weight: "bold" } },
            ticks: {
              padding: 10,
              autoSkip: false,
              color: "#404040",
              font: { family: "Lato", size: 14 },
              callback: (v: any) => {
                const e = Math.round(Math.log10(Number(v)));
                return `1.E${e < 0 ? "-" : "+"}${String(Math.abs(e)).padStart(2, "0")}`;
              },
            },
          },
        },
      },
      plugins: [overlayPlugin],
    } as any);
    return () => chart.destroy();
  }, []);
  return (
    <canvas
      ref={ref}
      width={1214}
      height={697}
      style={{ position: "fixed", left: 0, top: 0, width: 1214, height: 697, background: "#fff" }}
    />
  );
}
